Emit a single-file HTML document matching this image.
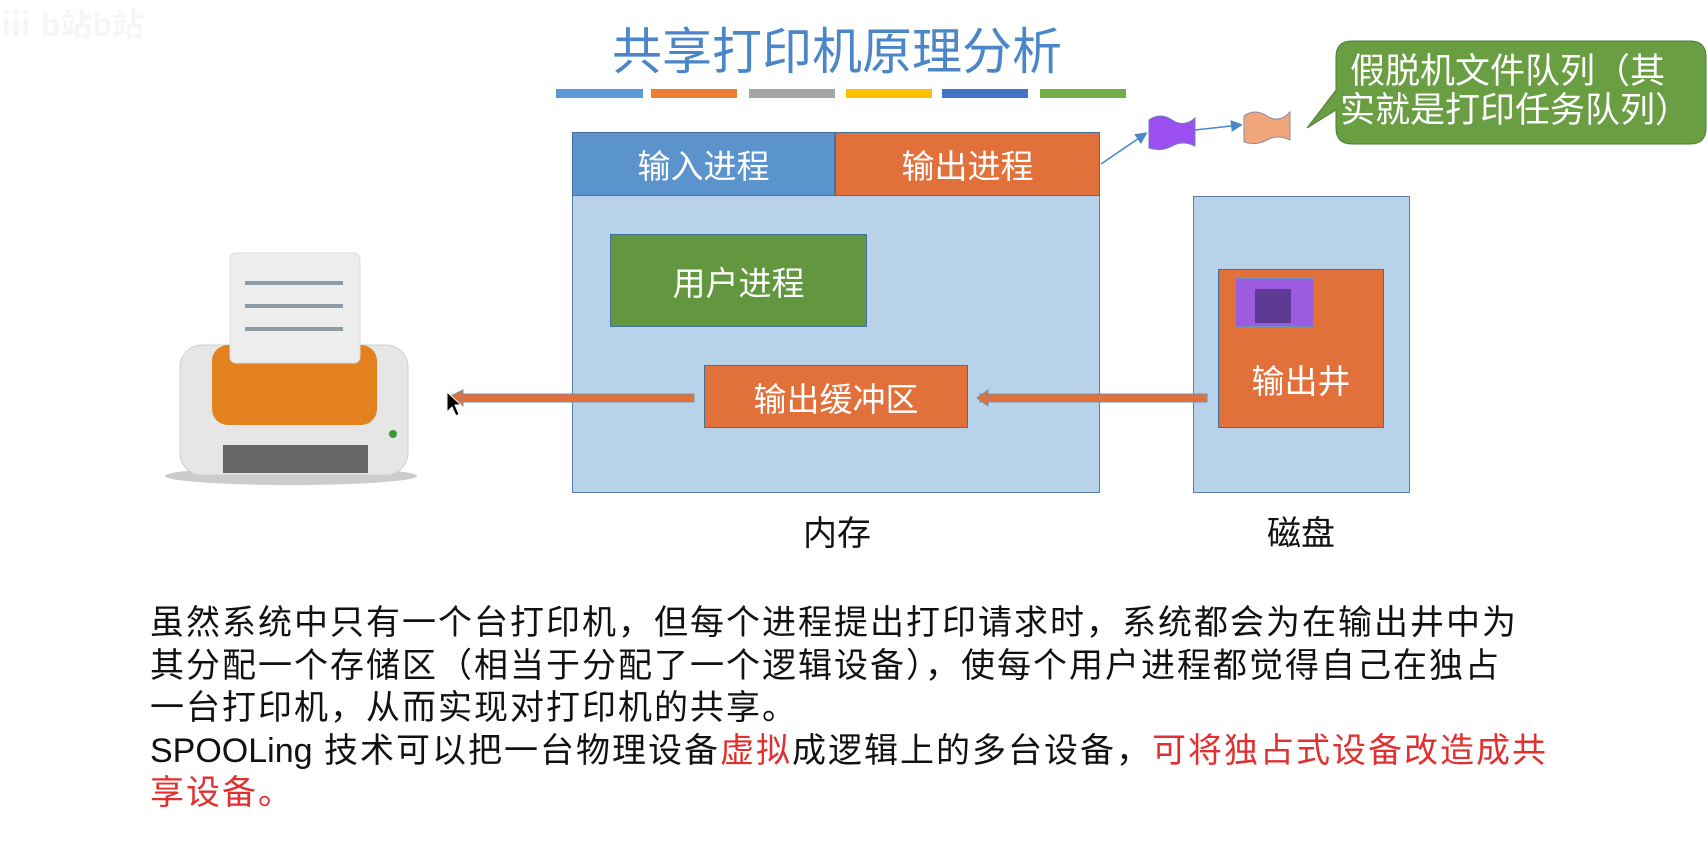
<!DOCTYPE html>
<html><head><meta charset="utf-8"><style>
body{margin:0;width:1708px;height:859px;background:#fff;position:relative;overflow:hidden;font-family:"Liberation Sans","Noto Sans CJK SC",sans-serif}
.a{position:absolute;box-sizing:border-box}
.c{display:flex;align-items:center;justify-content:center;color:#fff}
</style></head><body>
<div class="a" style="left:0;top:0;width:250px;height:40px;color:#eee;font-size:32px;font-weight:bold;opacity:.5">ⅲ b站b站</div>
<div class="a" style="left:537px;top:12px;width:600px;text-align:center;font-size:50px;color:#4a86c8">共享打印机原理分析</div>
<div class="a" style="left:556px;top:89px;width:87px;height:9px;background:#5b9bd5"></div>
<div class="a" style="left:651px;top:89px;width:86px;height:9px;background:#ed7d31"></div>
<div class="a" style="left:749px;top:89px;width:86px;height:9px;background:#a5a5a5"></div>
<div class="a" style="left:846px;top:89px;width:86px;height:9px;background:#ffc000"></div>
<div class="a" style="left:942px;top:89px;width:86px;height:9px;background:#4472c4"></div>
<div class="a" style="left:1040px;top:89px;width:86px;height:9px;background:#70ad47"></div>

<div class="a" style="left:572px;top:132px;width:528px;height:361px;background:#b8d2ea;border:1.5px solid #5a7fa8"></div>
<div class="a c" style="left:572px;top:132px;width:263px;height:64px;background:#5b93cc;border:1.5px solid #41719c;font-size:33px">输入进程</div>
<div class="a c" style="left:835px;top:132px;width:265px;height:64px;background:#e2703a;border:1.5px solid #41719c;font-size:33px">输出进程</div>
<div class="a c" style="left:610px;top:234px;width:257px;height:93px;background:#62973f;border:1.5px solid #41719c;font-size:33px">用户进程</div>
<div class="a c" style="left:704px;top:365px;width:264px;height:63px;background:#e2703a;border:1.5px solid #41719c;font-size:33px">输出缓冲区</div>
<div class="a" style="left:1193px;top:196px;width:217px;height:297px;background:#b8d2ea;border:1.5px solid #5a7fa8"></div>
<div class="a c" style="left:1218px;top:269px;width:166px;height:159px;background:#e2703a;border:1.5px solid #41719c;font-size:33px;padding-top:60px">输出井</div>
<div class="a" style="left:1235px;top:278px;width:79px;height:49px;background:#9b5ce0;border:1px solid #6a8fc0"></div>
<div class="a" style="left:1255px;top:289px;width:36px;height:34px;background:#5c3a94"></div>
<div class="a" style="left:787px;top:506px;width:100px;text-align:center;font-size:34px;color:#111">内存</div>
<div class="a" style="left:1251px;top:506px;width:100px;text-align:center;font-size:34px;color:#111">磁盘</div>

<svg class="a" style="left:0;top:0" width="1708" height="859">
<defs><marker id="m" markerWidth="8" markerHeight="8" refX="6" refY="4" orient="auto"><path d="M0,0L8,4L0,8z" fill="#4a86c8"/></marker></defs>
<rect x="980" y="394" width="227" height="8" fill="#e2703a" stroke="#7a8fa8"/>
<path d="M988,390L977,398L988,406z" fill="#e2703a" stroke="#7a8fa8"/>
<rect x="455" y="394" width="239" height="8" fill="#e2703a" stroke="#7a8fa8"/>
<path d="M463,390L447,398L463,406z" fill="#e2703a" stroke="#7a8fa8"/>
<path d="M447,392L447,412L452,407L456,416L459,414L455,405L461,405z" fill="#000" stroke="#fff" stroke-width="1"/>
<line x1="1101" y1="164" x2="1145" y2="134" stroke="#4a86c8" stroke-width="1.5" marker-end="url(#m)"/>
<line x1="1195" y1="130" x2="1240" y2="125" stroke="#4a86c8" stroke-width="1.5" marker-end="url(#m)"/>
<path d="M1149,120Q1160,112 1172,120T1195,118L1195,146Q1183,140 1172,146T1149,148z" fill="#9b4ff0" stroke="#6a7fc0"/>
<path d="M1244,116Q1255,108 1267,116T1290,112L1290,140Q1278,134 1267,140T1244,142z" fill="#f0a57a" stroke="#8a8fa0"/>
<path d="M1352,41H1690Q1706,41 1706,57V128Q1706,144 1690,144H1352Q1336,144 1336,128V110L1307,128L1336,90V57Q1336,41 1352,41z" fill="#6a9e43" stroke="#4f7a36"/>
<text x="1350" y="83" font-size="35" fill="#fff" font-family="Liberation Sans,Noto Sans CJK SC,sans-serif">假脱机文件队列（其</text>
<text x="1340" y="122" font-size="35" fill="#fff" font-family="Liberation Sans,Noto Sans CJK SC,sans-serif">实就是打印任务队列）</text>
<ellipse cx="291" cy="476" rx="126" ry="9" fill="#ccc"/>
<rect x="180" y="345" width="228" height="130" rx="22" fill="#e6e6e6" stroke="#d0d0d0"/>
<rect x="223" y="445" width="145" height="28" fill="#666"/>
<rect x="212" y="345" width="165" height="80" rx="16" fill="#e3811f"/>
<rect x="230" y="253" width="130" height="110" rx="6" fill="#ededed" stroke="#ddd"/>
<line x1="245" y1="283" x2="343" y2="283" stroke="#8c9ba4" stroke-width="4"/>
<line x1="245" y1="306" x2="343" y2="306" stroke="#8c9ba4" stroke-width="4"/>
<line x1="245" y1="329" x2="343" y2="329" stroke="#8c9ba4" stroke-width="4"/>
<circle cx="393" cy="434" r="4" fill="#3a9a3a"/>
</svg>

<div class="a" style="left:150px;top:602px;width:1560px;font-size:34px;line-height:42.5px;letter-spacing:2px;color:#111">
虽然系统中只有一个台打印机，但每个进程提出打印请求时，系统都会为在输出井中为<br>其分配一个存储区（相当于分配了一个逻辑设备），使每个用户进程都觉得自己在独占<br>一台打印机，从而实现对打印机的共享。<br><span style="letter-spacing:0">SPOOLing</span> 技术可以把一台物理设备<span style="color:#e03030">虚拟</span>成逻辑上的多台设备，<span style="color:#e03030">可将独占式设备改造成共<br>享设备。</span>
</div>
</body></html>
